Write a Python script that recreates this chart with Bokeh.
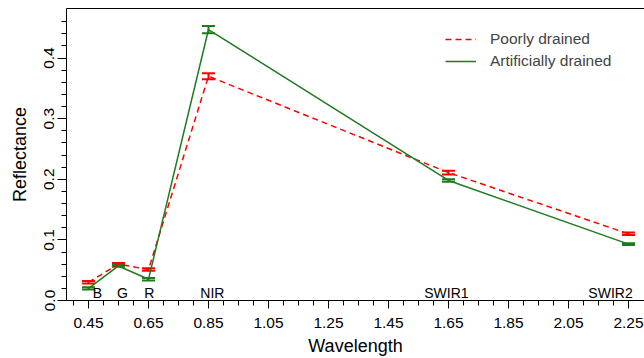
from bokeh.plotting import figure
from bokeh.models import (ColumnDataSource, Whisker, TeeHead, FixedTicker, LinearAxis,
                          Legend, LegendItem, Range1d, CustomJSTickFormatter)
from bokeh.core.properties import value
from bokeh.embed import file_html
from bokeh.resources import INLINE

# ---- data ----
wavelength = [0.45, 0.55, 0.65, 0.85, 1.65, 2.25]
poorly = [0.030, 0.060, 0.051, 0.370, 0.211, 0.110]
poorly_err = [0.002, 0.002, 0.002, 0.005, 0.003, 0.002]
artificial = [0.020, 0.057, 0.035, 0.447, 0.198, 0.093]
artificial_err = [0.002, 0.0015, 0.002, 0.006, 0.002, 0.0015]
band_names = ["B", "G", "R", "NIR", "SWIR1", "SWIR2"]
band_label_x = [0.48, 0.563, 0.653, 0.863, 1.643, 2.19]
x_major = [0.45, 0.65, 0.85, 1.05, 1.25, 1.45, 1.65, 1.85, 2.05, 2.25]
x_minor = [round(0.40 + 0.05 * i, 2) for i in range(38)]
y_major = [0.0, 0.1, 0.2, 0.3, 0.4]
y_minor = [round(0.02 * i, 2) for i in range(24)]

RED = "#FF0000"
GREEN = "#1F7A1F"
FONT = "Liberation Sans"

p = figure(width=644, height=358, output_backend="svg", toolbar_location=None,
           x_range=Range1d(0.3767, 2.3033), y_range=Range1d(0.0, 0.4817),
           min_border_left=66, min_border_right=0, min_border_top=8, min_border_bottom=0,
           x_axis_location=None, y_axis_location=None)
p.outline_line_color = None
p.grid.visible = False
p.background_fill_color = "white"

# axes
xaxis = LinearAxis(ticker=FixedTicker(ticks=x_major, minor_ticks=x_minor))
xaxis.axis_label = "Wavelength"
yaxis = LinearAxis(ticker=FixedTicker(ticks=y_major, minor_ticks=y_minor))
yaxis.axis_label = "Reflectance"
for ax in (xaxis, yaxis):
    ax.axis_line_color = "black"
    ax.major_tick_line_color = "black"
    ax.minor_tick_line_color = "black"
    ax.major_tick_in = 0
    ax.minor_tick_in = 0
    ax.major_label_text_font = FONT
    ax.major_label_text_font_size = "15.5px"
    ax.major_label_text_color = "black"
    ax.axis_label_text_font = FONT
    ax.axis_label_text_font_size = "18px"
    ax.axis_label_text_font_style = "normal"
    ax.axis_label_text_color = "black"
xaxis.major_tick_out = 8
xaxis.minor_tick_out = 5
xaxis.major_label_standoff = 9
xaxis.axis_label_standoff = 5
yaxis.major_tick_out = 9
yaxis.minor_tick_out = 5
yaxis.major_label_standoff = 3
yaxis.axis_label_standoff = 12
yaxis.major_label_orientation = "vertical"
yaxis.formatter = CustomJSTickFormatter(code="return tick.toFixed(1);")
xaxis.formatter = CustomJSTickFormatter(code="return tick.toFixed(2);")
p.add_layout(xaxis, "below")
p.add_layout(yaxis, "left")

top = LinearAxis(ticker=FixedTicker(ticks=[], minor_ticks=[]),
                 major_tick_line_color=None, minor_tick_line_color=None,
                 axis_line_color="black", major_tick_out=0, minor_tick_out=0,
                 major_label_standoff=0)
p.add_layout(top, "above")

src = ColumnDataSource(dict(
    x=wavelength,
    p=poorly, p_lo=[v - e for v, e in zip(poorly, poorly_err)],
    p_hi=[v + e for v, e in zip(poorly, poorly_err)],
    a=artificial, a_lo=[v - e for v, e in zip(artificial, artificial_err)],
    a_hi=[v + e for v, e in zip(artificial, artificial_err)],
))

r_poor = p.line("x", "p", source=src, line_color=RED, line_width=1.5, line_dash="6 4")
r_art = p.line("x", "a", source=src, line_color=GREEN, line_width=1.5)

for lo, hi, col in (("p_lo", "p_hi", RED), ("a_lo", "a_hi", GREEN)):
    w = Whisker(source=src, base="x", lower=lo, upper=hi, line_color=col, line_width=2,
                upper_head=TeeHead(size=13, line_color=col, line_width=2),
                lower_head=TeeHead(size=13, line_color=col, line_width=2))
    p.add_layout(w)

lab_src = ColumnDataSource(dict(x=band_label_x, y=[0.0] * len(band_names), t=band_names))
p.text("x", "y", text="t", source=lab_src, text_align="center", text_baseline="bottom",
       text_font=value(FONT), text_font_size="14px", text_color="black")

legend = Legend(items=[LegendItem(label="Poorly drained", renderers=[r_poor]),
                       LegendItem(label="Artificially drained", renderers=[r_art])],
                location=(379, 229))
legend.border_line_color = None
legend.background_fill_alpha = 0
legend.label_text_font = FONT
legend.label_text_font_size = "15.5px"
legend.glyph_width = 31
legend.glyph_height = 20
legend.label_height = 20
legend.label_standoff = 14
legend.spacing = 2
legend.padding = 0
legend.margin = 0
p.add_layout(legend, "center")

open("out.html", "w").write(file_html(p, INLINE))
